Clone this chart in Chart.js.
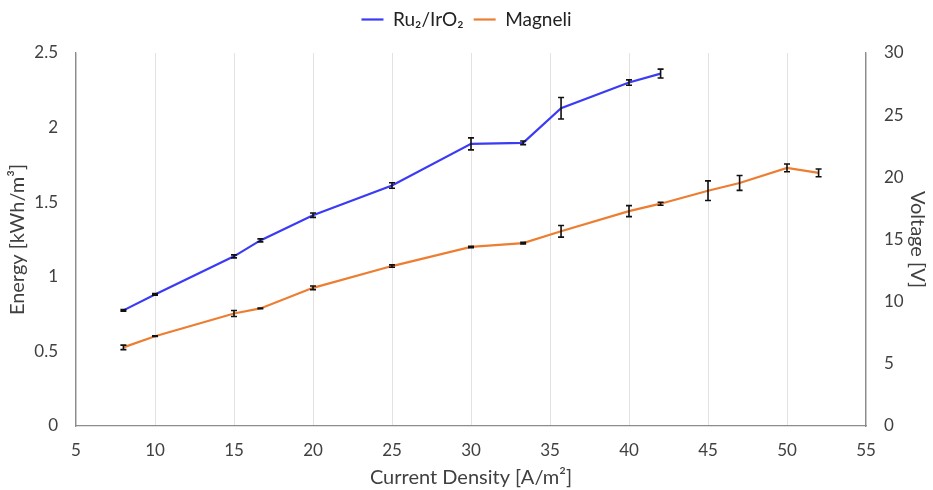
<!DOCTYPE html>
<html>
<head>
<meta charset="utf-8">
<script src="https://cdn.jsdelivr.net/npm/chart.js@4.4.1/dist/chart.umd.min.js"></script>
<style>
  html, body { margin: 0; padding: 0; background: #fff; }
  #wrap { width: 933px; height: 490px; }
</style>
</head>
<body>
<div id="wrap"><canvas id="energyChart" width="933" height="490"></canvas></div>
<script>
'use strict';

/* ── DATA ── */
const ruCurrent = [8, 10, 15, 16.67, 20, 25, 30, 33.3, 35.7, 40, 42];
const ruEnergy  = [0.775, 0.882, 1.137, 1.244, 1.413, 1.612, 1.891, 1.898, 2.13, 2.302, 2.362];
const ruError   = [0.005, 0.005, 0.01, 0.01, 0.015, 0.018, 0.04, 0.012, 0.072, 0.018, 0.03];

const magCurrent = [8, 10, 15, 16.67, 20, 25, 30, 33.3, 35.7, 40, 42, 45, 47, 50, 52];
const magEnergy  = [0.527, 0.602, 0.754, 0.788, 0.926, 1.072, 1.2, 1.226, 1.305, 1.44, 1.49, 1.577, 1.629, 1.73, 1.697];
const magError   = [0.015, 0.002, 0.02, 0.002, 0.012, 0.008, 0.005, 0.005, 0.039, 0.037, 0.01, 0.066, 0.05, 0.026, 0.026];

const seriesLabels = ['Ru\u2082/IrO\u2082', 'Magneli'];

const FONT = "Lato, 'Open Sans', 'DejaVu Sans', sans-serif";
const TEXT = '#404040';
const AXIS = '#8c8c8c';

Chart.defaults.font.family = FONT;
Chart.defaults.color = TEXT;

/* ── ERROR BAR PLUGIN (drawn through the chart scales) ── */
const errorBars = {
  id: 'errorBars',
  afterDatasetsDraw(chart) {
    const { ctx } = chart;
    const x = chart.scales.x;
    const y = chart.scales.y;
    chart.data.datasets.forEach((ds) => {
      const errs = ds.errors || [];
      ds.data.forEach((pt, i) => {
        const e = errs[i];
        if (!e) return;
        const px = x.getPixelForValue(pt.x);
        const top = y.getPixelForValue(pt.y + e);
        const bot = y.getPixelForValue(pt.y - e);
        ctx.save();
        ctx.strokeStyle = '#111';
        ctx.lineWidth = 1.6;
        ctx.beginPath();
        ctx.moveTo(px, top);
        ctx.lineTo(px, bot);
        ctx.moveTo(px - 3, top);
        ctx.lineTo(px + 3, top);
        ctx.moveTo(px - 3, bot);
        ctx.lineTo(px + 3, bot);
        ctx.stroke();
        ctx.restore();
      });
    });
  },
};

// extra room under the legend
const legendGap = {
  id: 'legendGap',
  beforeInit(chart) {
    const fit = chart.legend.fit;
    chart.legend.fit = function () {
      fit.bind(chart.legend)();
      this.height += 14;
    };
  },
};

function toPoints(xs, ys) {
  return xs.map((v, i) => ({ x: v, y: ys[i] }));
}

const plainTick = (v) => String(Number(v));

new Chart(document.getElementById('energyChart'), {
  type: 'line',
  data: {
    datasets: [
      {
        label: seriesLabels[0],
        data: toPoints(ruCurrent, ruEnergy),
        errors: ruError,
        borderColor: '#3b3bf5',
        backgroundColor: '#3b3bf5',
        borderWidth: 2.2,
        pointRadius: 0,
        tension: 0,
        yAxisID: 'y',
      },
      {
        label: seriesLabels[1],
        data: toPoints(magCurrent, magEnergy),
        errors: magError,
        borderColor: '#ed7d31',
        backgroundColor: '#ed7d31',
        borderWidth: 2.2,
        pointRadius: 0,
        tension: 0,
        yAxisID: 'y',
      },
    ],
  },
  options: {
    responsive: false,
    animation: false,
    layout: { padding: { top: 0, left: 0, right: 0, bottom: 0 } },
    plugins: {
      tooltip: { enabled: false },
      legend: {
        position: 'top',
        labels: {
          usePointStyle: true,
          pointStyle: 'line',
          pointStyleWidth: 22,
          boxWidth: 22,
          boxHeight: 2,
          color: '#222',
          font: { size: 19 },
          padding: 10,
        },
      },
    },
    scales: {
      x: {
        type: 'linear',
        min: 5,
        max: 55,
        ticks: { stepSize: 5, padding: 14, font: { size: 17 }, color: TEXT, callback: plainTick },
        grid: { display: true, color: '#e2e2e2', drawTicks: false, lineWidth: 1 },
        border: { display: true, color: AXIS, width: 1.3 },
        title: { display: true, text: 'Current Density [A/m\u00b2]', font: { size: 20 }, color: TEXT, padding: { top: 2, bottom: 0 } },
        afterFit(s) { s.height = 64; },
      },
      y: {
        position: 'left',
        min: 0,
        max: 2.5,
        ticks: { stepSize: 0.5, padding: 18, font: { size: 17 }, color: TEXT, callback: plainTick },
        grid: { display: false, drawTicks: false },
        border: { display: true, color: AXIS, width: 1.3 },
        title: { display: true, text: 'Energy [kWh/m\u00b3]', font: { size: 20 }, color: TEXT, padding: { top: 6, bottom: 4 } },
        afterFit(s) { s.width = 76; },
      },
      y1: {
        position: 'right',
        min: 0,
        max: 30,
        ticks: { stepSize: 5, padding: 18, font: { size: 17 }, color: TEXT, callback: plainTick },
        grid: { display: false, drawTicks: false },
        border: { display: true, color: AXIS, width: 1.3 },
        title: { display: true, text: 'Voltage [V]', font: { size: 20 }, color: TEXT },
        afterFit(s) { s.width = 67; },
      },
    },
  },
  plugins: [errorBars, legendGap],
});
</script>
</body>
</html>
